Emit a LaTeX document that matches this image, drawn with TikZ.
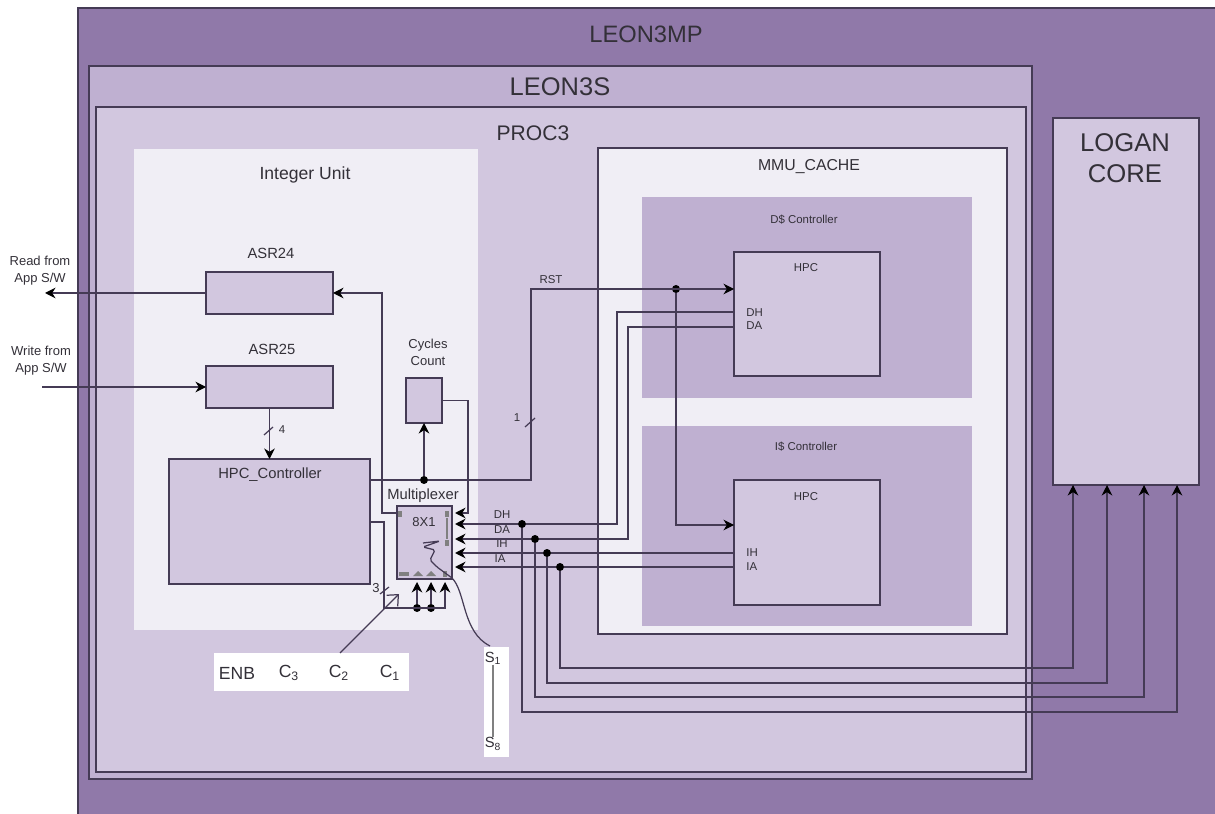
\documentclass[tikz,border=0pt]{standalone}
\usepackage{fontspec}
\setmainfont{Liberation Sans}
\usetikzlibrary{arrows.meta}
\definecolor{outerpurple}{HTML}{9079A9}
\definecolor{midpurple}{HTML}{BFB0D1}
\definecolor{lightpurple}{HTML}{D2C7DF}
\definecolor{palepurple}{HTML}{F0EEF5}
\definecolor{wirecolor}{HTML}{453B55}
\definecolor{labelcolor}{HTML}{333038}
\def\px{0.02cm}
\tikzset{
    block/.style={draw=wirecolor, line width=0.7pt, inner sep=0pt, outer sep=0pt},
    plainblock/.style={inner sep=0pt, outer sep=0pt},
    wire/.style={draw=wirecolor, line width=0.7pt},
    wirearrow/.style={wire, -{Stealth[length=6pt,width=6pt,color=black]}},
    wiredot/.style={circle, fill=black, minimum size=8*\px, inner sep=0pt, outer sep=0pt},
    tinytext/.style={text=labelcolor, inner sep=0pt, font=\fontsize{6.5}{7.6}\selectfont, align=center},
    readtext/.style={text=labelcolor, inner sep=0pt, font=\fontsize{7.4}{9.6}\selectfont, align=center},
    smalltext/.style={text=labelcolor, inner sep=0pt, font=\fontsize{8.4}{9.6}\selectfont, align=center},
    midtext/.style={text=labelcolor, inner sep=0pt, font=\fontsize{10}{12}\selectfont},
    bigtext/.style={text=labelcolor, inner sep=0pt, font=\fontsize{13.5}{16}\selectfont},
    hugetext/.style={text=labelcolor, inner sep=0pt, font=\fontsize{14.6}{17.5}\selectfont, align=center}
}
\begin{document}
\begin{tikzpicture}[x=0.02cm, y=-0.02cm]
    \useasboundingbox (0,0) rectangle (1215,814);
    \node[block, fill=outerpurple, minimum width=1157*\px, minimum height=826*\px] (leon3mp) at (656.5,421) {};
    \node[block, fill=midpurple, minimum width=943*\px, minimum height=713*\px] (leon3s) at (560.5,422.5) {};
    \node[block, fill=lightpurple, minimum width=930*\px, minimum height=665*\px] (proc3) at (561,439.5) {};
    \node[plainblock, fill=palepurple, minimum width=344*\px, minimum height=481*\px] (intunit) at (306,389.5) {};
    \node[block, fill=palepurple, minimum width=409*\px, minimum height=486*\px] (mmucache) at (802.5,391) {};
    \node[plainblock, fill=midpurple, minimum width=330*\px, minimum height=201*\px] (dcontrol) at (807,297.5) {};
    \node[plainblock, fill=midpurple, minimum width=330*\px, minimum height=200*\px] (icontrol) at (807,526) {};
    \node[block, fill=lightpurple, minimum width=146*\px, minimum height=124*\px] (hpcd) at (807,314) {};
    \node[block, fill=lightpurple, minimum width=146*\px, minimum height=125*\px] (hpci) at (807,542.5) {};
    \node[block, fill=lightpurple, minimum width=146*\px, minimum height=367*\px] (logan) at (1126,301.5) {};
    \node[block, fill=lightpurple, minimum width=127*\px, minimum height=42*\px] (asr24) at (269.5,293) {};
    \node[block, fill=lightpurple, minimum width=127*\px, minimum height=42*\px] (asr25) at (269.5,387) {};
    \node[block, fill=lightpurple, minimum width=201*\px, minimum height=125*\px] (hpcctrl) at (269.5,521.5) {};
    \node[block, fill=lightpurple, minimum width=36*\px, minimum height=45*\px] (cycles) at (424,400.5) {};
    \node[block, fill=lightpurple, minimum width=55*\px, minimum height=73*\px] (mux) at (424.5,542.5) {};
    \node[plainblock, fill=white, minimum width=195*\px, minimum height=38*\px] (enbbox) at (311.5,672) {};
    \node[plainblock, fill=white, minimum width=25*\px, minimum height=110*\px] (selbox) at (496.5,702) {};

    \node[bigtext] (leon3mp-label) at (646,34) {LEON3MP};
    \node[bigtext, font=\fontsize{14.5}{17}\selectfont] (leon3s-label) at (560,87) {LEON3S};
    \node[bigtext, font=\fontsize{12}{14}\selectfont] (proc3-label) at (533,133) {PROC3};
    \node[hugetext] (logan-label) at (1125,158) {LOGAN\\CORE};
    \node[midtext] (intunit-label) at (305,175) {Integer Unit};
    \node[midtext, font=\fontsize{9}{11}\selectfont] (mmucache-label) at (809,167) {MMU\_CACHE};
    \node[tinytext] (dcontrol-label) at (804,220) {D\$ Controller};
    \node[tinytext] (icontrol-label) at (806,447) {I\$ Controller};
    \node[tinytext] (hpcd-label) at (806,268) {HPC};
    \node[tinytext] (hpci-label) at (806,497) {HPC};
    \node[smalltext] (asr24-label) at (271,253) {ASR24};
    \node[smalltext] (asr25-label) at (272,349) {ASR25};
    \node[smalltext] (hpcctrl-label) at (270,475) {HPC\_Controller};
    \node[readtext] (cycles-label) at (428,352) {Cycles\\Count};
    \node[smalltext] (mux-label) at (423,496) {Multiplexer};
    \node[readtext] (muxsize-label) at (424,522) {8X1};
    \node[readtext] (read-label) at (40,271) {Read from\\App S/W};
    \node[readtext] (write-label) at (41,361) {Write from\\App S/W};
    \node[tinytext] (rst-label) at (551,280) {RST};
    \node[tinytext] (one-label) at (517,418) {1};
    \node[tinytext] (four-label) at (282,430) {4};
    \node[readtext] (three-label) at (376,588) {3};
    \node[midtext] (enb-label) at (237,673) {ENB};
    \node[midtext] (c3-label) at (289,673) {C\textsubscript{3}};
    \node[midtext] (c2-label) at (339,673) {C\textsubscript{2}};
    \node[midtext] (c1-label) at (390,673) {C\textsubscript{1}};
    \node[smalltext] (s1-label) at (493,658) {S\textsubscript{1}};
    \node[smalltext] (s8-label) at (493,744) {S\textsubscript{8}};
    \draw[gray, line width=0.8pt] (s1-label.south) -- (s8-label.north);

    \foreach \name/\xpos/\ypos in {dh/502/515, da/502/530, ih/502/544, ia/500/559}
        \node[tinytext] (\name-label) at (\xpos,\ypos) {\MakeUppercase{\name}};
    \foreach \name/\ypos in {dh/313, da/326, ih/553, ia/567}
        \node[tinytext, anchor=west] (\name-port) at (746,\ypos) {\MakeUppercase{\name}};

    \coordinate (readend) at (45,293);
    \coordinate (writestart) at (42,387);
    \coordinate (enbtop) at (340,653);
    \coordinate (openbase) at (384,608);
    \coordinate (opentip) at (399,594);
    \node[wiredot] (cycdot) at (424,480) {};
    \node[wiredot] (rstdot) at (676,289) {};
    \node[wiredot] (enbdot) at (417,608) {};
    \node[wiredot] (c3dot) at (431,608) {};

    \draw[wirearrow] (asr24.west) -- (readend);
    \draw[wirearrow] (writestart) -- (asr25.west);
    \draw[wirearrow] (asr25.south) -- (asr25.south |- hpcctrl.north);
    \draw[wirearrow] (mux.west |- 397,513) -- (382,513) -- (382,293) -- (asr24.east);
    \draw[wirearrow] (cycles.east) -- (468,400.5) -- (468,513) -- (455,513);
    \draw[wirearrow] (cycdot) -- (cycles.south);
    \draw[wire] (hpcctrl.east |- cycdot) -- (cycdot);
    \draw[wirearrow] (cycdot) -- (531,480) -- (531,289) -- (hpcd.west |- rstdot);
    \draw[wirearrow] (rstdot) -- (676,525) -- (hpci.west |- 734,525);
    \draw[wire] (hpcctrl.east |- 370,522) -- (384,522) -- (openbase) -- (445,608) -- (445,590);
    \foreach \dotname/\xpos in {enbdot/417, c3dot/431}
        \draw[wirearrow] (\dotname) -- (\xpos,582);
    \draw[wirearrow] (445,608) -- (445,582);
    \draw[wire, -{Straight Barb[length=5pt, width=9pt]}] (enbtop) -- (opentip);

    \draw[wire] (525,427) -- (535,418);
    \draw[wire] (264,435) -- (273,427);
    \draw[wire] (380,594) -- (389,587);

    \foreach \name/\dotx/\ypos/\level/\xend in {dh/522/524/712/1177, da/535/539/697/1144, ih/547/553/683/1107, ia/560/567/668/1073} {
        \node[wiredot] (\name dot) at (\dotx,\ypos) {};
        \draw[wirearrow] (\name dot) -- (\dotx,\level) -- (\xend,\level) -- (\xend,485);
        \draw[wirearrow] (\name dot) -- (455,\ypos);
    }
    \draw[wire] (dhdot) -- (617,524) -- (617,312) -- (hpcd.west |- 734,312);
    \draw[wire] (dadot) -- (628,539) -- (628,327) -- (hpcd.west |- 734,327);
    \draw[wire] (ihdot) -- (hpci.west |- ihdot);
    \draw[wire] (iadot) -- (hpci.west |- iadot);

    \foreach \xpos/\ypos in {400/514, 447/514, 447/543, 445/574}
        \fill[gray] (\xpos-2,\ypos-3) rectangle (\xpos+2,\ypos+3);
    \fill[gray] (399,572) rectangle (409,576);
    \foreach \xpos in {418,431}
        \fill[gray] (\xpos-5,576) -- (\xpos,571) -- (\xpos+5,576) -- cycle;
    \draw[gray, line width=0.8pt] (447,518) -- (447,539);
    \draw[wire, rounded corners=1pt] (423,543) -- (440,541) -- (423,547) -- (435,550)
        -- (430,560) -- (437,567) -- (452,578);
    \draw[wire] (452,578) .. controls (466,592) and (462,632) .. (490,646);
\end{tikzpicture}
\end{document}
